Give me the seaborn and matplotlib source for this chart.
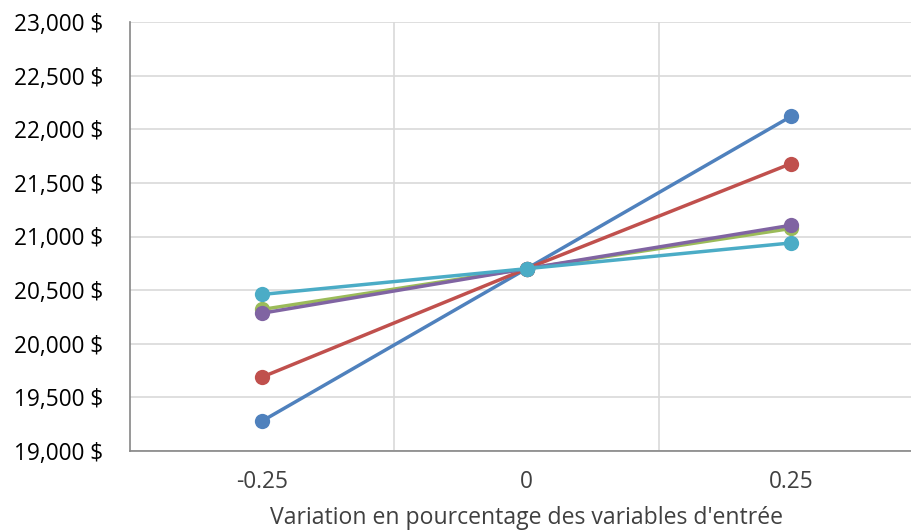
import matplotlib
matplotlib.use("Agg")
import matplotlib.pyplot as plt
import matplotlib.ticker as mticker
import pandas as pd
import seaborn as sns

# Sensitivity of the result to each input variable (-25 %, 0, +25 %)
categories = ["-0.25", "0", "0.25"]
series_names = ["Variable 1", "Variable 2", "Variable 3", "Variable 4", "Variable 5"]
var1 = [19280, 20700, 22120]
var2 = [19690, 20700, 21680]
var3 = [20320, 20700, 21075]
var4 = [20285, 20700, 21105]
var5 = [20460, 20700, 20940]
colors = ["#4F81BD", "#C0504D", "#9BBB59", "#8064A2", "#4BACC6"]

rows = []
for name, vals in zip(series_names, [var1, var2, var3, var4, var5]):
    for c, v in zip(categories, vals):
        rows.append({"variation": c, "valeur": v, "serie": name})
df = pd.DataFrame(rows)

sns.set_theme(style="white")
plt.rcParams["font.family"] = ["Open Sans", "DejaVu Sans"]

W, H = 912, 531
fig = plt.figure(figsize=(W / 100, H / 100), dpi=100)
ax = fig.add_axes([130 / W, (H - 451) / H, (912 - 130) / W, (451 - 22) / H])

sns.lineplot(
    data=df, x="variation", y="valeur", hue="serie", hue_order=series_names,
    palette=colors, marker="o", markersize=11, markeredgewidth=0,
    linewidth=2.5, legend=False, sort=False, ax=ax,
)

ax.set_ylim(19000, 23000)
ax.yaxis.set_major_locator(mticker.MultipleLocator(500))
ax.yaxis.set_major_formatter(mticker.FuncFormatter(lambda v, p: f"{v:,.0f} $"))
ax.set_xlim(-0.5, 2.457)

# category boundaries as vertical grid lines
ax.set_xticks([0, 1, 2])
ax.set_xticklabels(categories)
ax.set_xticks([0.5, 1.5], minor=True)
ax.grid(axis="y", which="major", color="#D9D9D9", linewidth=1.2)
ax.grid(axis="x", which="minor", color="#D9D9D9", linewidth=1.2)
ax.grid(axis="x", which="major", visible=False)
ax.set_axisbelow(True)

for s in ["top", "right"]:
    ax.spines[s].set_visible(False)
for s in ["left", "bottom"]:
    ax.spines[s].set_color("#868686")
    ax.spines[s].set_linewidth(1.2)

ax.tick_params(axis="both", which="both", length=0)
ax.tick_params(axis="y", labelsize=16.3, pad=19.5, labelcolor="#000000")
ax.tick_params(axis="x", labelsize=16.3, pad=14, labelcolor="#404040")

ax.set_ylabel("")
ax.set_xlabel("Variation en pourcentage des variables d'entrée",
              fontsize=16.6, color="#404040", labelpad=4)
ax.xaxis.set_label_coords((526 - 130) / (912 - 130), -(518 - 451) / (451 - 22))
ax.xaxis.label.set_va("center")

fig.savefig("out.png", dpi=100)
